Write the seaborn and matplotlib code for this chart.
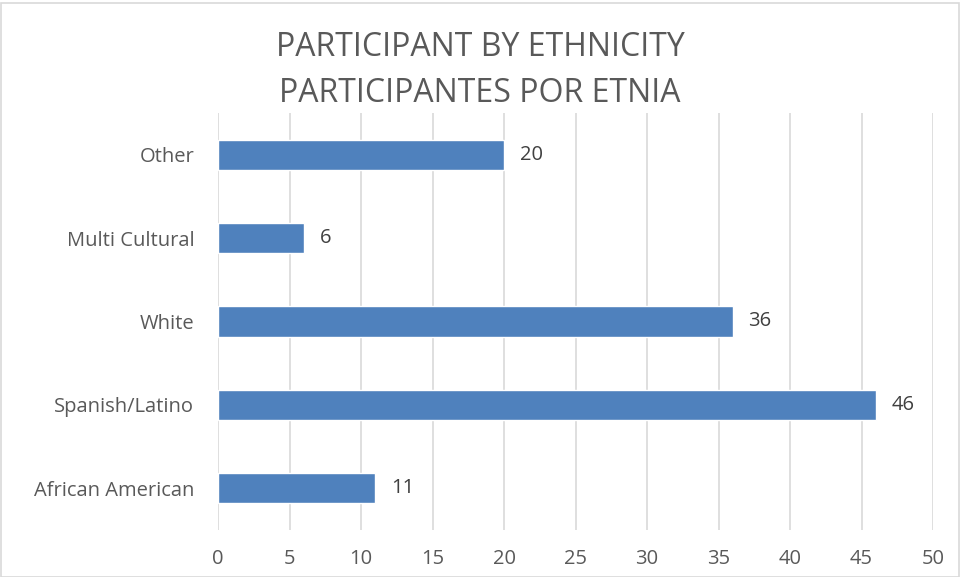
import matplotlib
matplotlib.use("Agg")
import matplotlib.pyplot as plt
import seaborn as sns
import pandas as pd
from matplotlib.patches import Rectangle

categories = ["Other", "Multi Cultural", "White", "Spanish/Latino", "African American"]
counts = [20, 6, 36, 46, 11]
x_ticks = [0, 5, 10, 15, 20, 25, 30, 35, 40, 45, 50]

sns.set_theme(style="white")
plt.rcParams["font.family"] = ["Open Sans", "DejaVu Sans"]

df = pd.DataFrame({"ethnicity": categories, "count": counts})

fig = plt.figure(figsize=(9.61, 5.77), dpi=100)
ax = fig.add_axes([218 / 961, 1 - 530 / 577, (933 - 218) / 961, (530 - 113) / 577])

sns.barplot(data=df, x="count", y="ethnicity", order=categories, color="#4F81BD",
            saturation=1, width=0.36, ax=ax, zorder=3)

ax.set_xlim(0, 50)
ax.set_ylim(4.5, -0.5)
ax.set_xticks(x_ticks)
ax.set_xticklabels([str(t) for t in x_ticks])
ax.xaxis.grid(True, color="#D9D9D9", linewidth=1.2, zorder=0)
ax.set_axisbelow(True)
for s in ax.spines.values():
    s.set_visible(False)
ax.tick_params(axis="both", length=0, labelsize=14.5, colors="#595959")
ax.tick_params(axis="x", pad=14)
ax.tick_params(axis="y", pad=17)
ax.set_xlabel("")
ax.set_ylabel("")

for i, v in enumerate(counts):
    ax.text(v + 1.1, i, str(v), va="center", ha="left", fontsize=14.5, color="#404040")

fig.text(480 / 961, 1 - 48 / 577, "PARTICIPANT BY ETHNICITY", ha="center", va="center",
         fontsize=23, color="#595959")
fig.text(480 / 961, 1 - 93 / 577, "PARTICIPANTES POR ETNIA", ha="center", va="center",
         fontsize=23, color="#595959")

fig.patches.append(Rectangle((0.5 / 961, 0.5 / 577), 958 / 961, 574 / 577,
                             transform=fig.transFigure, fill=False,
                             edgecolor="#D9D9D9", linewidth=1.2))

fig.savefig("out.png", dpi=100)
